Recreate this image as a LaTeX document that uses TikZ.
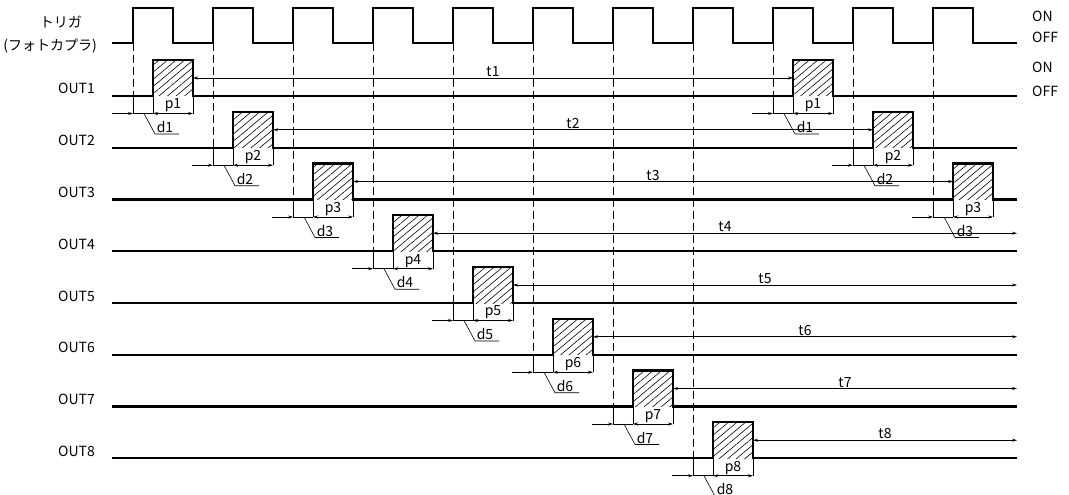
\documentclass[tikz,border=0pt]{standalone}
\usepackage{fontspec}
\setmainfont{Noto Sans CJK JP}
\usetikzlibrary{arrows.meta,patterns.meta}

\begin{document}
\begin{tikzpicture}[x=1pt, y=-1pt,
  every node/.style={font=\fontsize{14}{16}\selectfont, inner sep=1pt},
  sig/.style={line width=2.2pt},
  dimln/.style={line width=.6pt},
  guide/.style={line width=.9pt, dash pattern=on 8pt off 4pt},
  hatch/.style={pattern={Lines[angle=40,distance=5.5pt,line width=.6pt]}},
  tip/.style={-{Stealth[length=5pt,width=3pt]}},
  tips/.style={{Stealth[length=5pt,width=3pt]}-{Stealth[length=5pt,width=3pt]}}]
\useasboundingbox (0,0) rectangle (1069,495);

% trigger
\draw[sig] (112,43) \foreach \k in {0,...,10} {-- ({133+80*\k},43) -- ({133+80*\k},8) -- ({173+80*\k},8) -- ({173+80*\k},43)} -- (1017,43);
\node[anchor=east] (trig) at (83,22) {トリガ};
\node[anchor=east] (trigsub) at (98,46) {(フォトカプラ)};
\node[anchor=base west] (on0) at (1031,22) {ON};
\node[anchor=base west] (off0) at (1031,43) {OFF};
\node[anchor=base west] (on1) at (1031,73) {ON};
\node[anchor=base west] (off1) at (1031,96) {OFF};

% outputs
\foreach \n/\pl in {1/{0,8},2/{1,9},3/{2,10},4/3,5/4,6/5,7/6,8/7} {
  \pgfmathsetmacro\yb{96+51.75*(\n-1)}
  \node[anchor=base east] (out\n) at (96,\yb-2) {OUT\n};
  \foreach \k in \pl {
    \pgfmathsetmacro\xa{133+80*\k}
    \fill[hatch] (\xa+20,\yb) rectangle (\xa+60,\yb-36);
    \draw[guide] (\xa,43) -- (\xa,\yb);
    \draw[dimln] (\xa,\yb) -- (\xa,\yb+17.5) (\xa+20,\yb) -- (\xa+20,\yb+17.5) (\xa+60,\yb) -- (\xa+60,\yb+17.5);
    \draw[dimln,tip] (\xa-21,\yb+17.5) -- (\xa,\yb+17.5);
    \draw[dimln] (\xa,\yb+17.5) -- (\xa+20,\yb+17.5);
    \draw[dimln,tips] (\xa+20,\yb+17.5) -- (\xa+60,\yb+17.5) node[midway,above] (p\n-\k) {p\n};
    \draw[dimln] (\xa+11,\yb+17.5) -- (\xa+22,\yb+38) -- (\xa+46,\yb+38);
    \node[anchor=south] (d\n-\k) at (\xa+32,\yb+38) {d\n};
  }
  \draw[sig] (112,\yb) \foreach \k in \pl {-- ({153+80*\k},\yb) -- ({153+80*\k},\yb-36) -- ({193+80*\k},\yb-36) -- ({193+80*\k},\yb)} -- (1017,\yb);
}

% periods
\foreach \n/\k/\e in {1/0/793,2/1/873,3/2/953,4/3/1017,5/4/1017,6/5/1017,7/6/1017,8/7/1017} {
  \pgfmathsetmacro\yb{96+51.75*(\n-1)}
  \draw[dimln,tips] ({193+80*\k},\yb-18) -- (\e,\yb-18) node[midway,above] (t\n) {t\n};
}

\end{tikzpicture}
\end{document}
